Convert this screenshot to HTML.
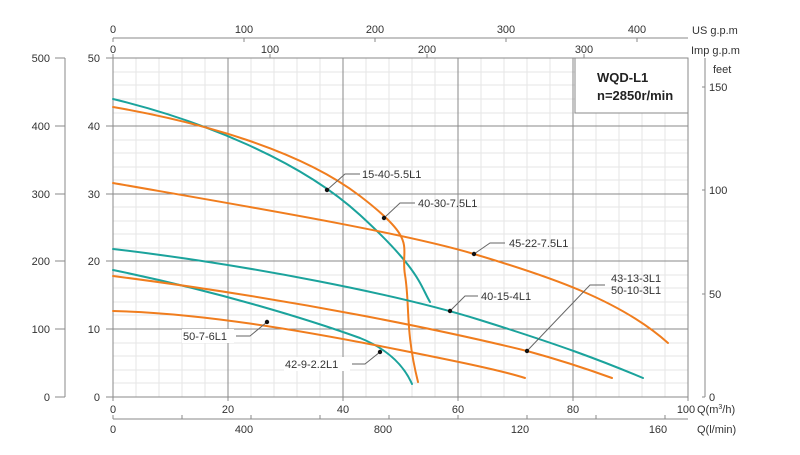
<!DOCTYPE html>
<html><head><meta charset="utf-8"><style>
html,body{margin:0;padding:0;background:#fff}
svg text{font-family:"Liberation Sans",Arial,sans-serif;fill:#333}
</style></head><body>
<svg width="800" height="450" viewBox="0 0 800 450" xmlns="http://www.w3.org/2000/svg">
<g stroke="#e6e6e6" stroke-width="1">
<path d="M136 58V397M159 58V397M182 58V397M205 58V397M251 58V397M274 58V397M297 58V397M320 58V397M366 58V397M389 58V397M412 58V397M435 58V397M481 58V397M504 58V397M527 58V397M550 58V397M596 58V397M619 58V397M642 58V397M665 58V397"/>
<path d="M113 383H688M113 370H688M113 356H688M113 343H688M113 315H688M113 302H688M113 288H688M113 275H688M113 248H688M113 234H688M113 221H688M113 207H688M113 180H688M113 167H688M113 153H688M113 140H688M113 113H688M113 99H688M113 85H688M113 72H688"/>
</g>
<g stroke="#8a8a8a" stroke-width="1" fill="none">
<path d="M228 58V397M343 58V397M458 58V397M573 58V397"/>
<path d="M113 329H688M113 261H688M113 194H688M113 126H688"/>
<rect x="113" y="58" width="575" height="339"/>
<path d="M113 38H688M113 38V42M244 38V42M375 38V42M506 38V42M637 38V42"/>
<path d="M113 58V54M270 58V54M427 58V54M584 58V54"/>
<path d="M65 58V397M55 58H65M55 126H65M55 194H65M55 261H65M55 329H65M55 397H65"/>
<path d="M106 58H113M106 126H113M106 194H113M106 261H113M106 329H113M106 397H113"/>
<path d="M705 58V397M702 87H705M702 190H705M702 294H705M702 397H705"/>
<path d="M113 419H688M113 419V415M182 419V415M251 419V415M320 419V415M389 419V415M458 419V415M527 419V415M596 419V415M665 419V415"/>
<path d="M113 397V401M228 397V401M343 397V401M458 397V401M573 397V401M688 397V401"/>
</g>
<rect x="575" y="58" width="113" height="55" fill="#fff" stroke="#8a8a8a"/>
<text x="597" y="82" font-size="13" font-weight="bold" style="fill:#222">WQD-L1</text>
<text x="597" y="100" font-size="13" font-weight="bold" style="fill:#222">n=2850r/min</text>
<g font-size="11">
<text x="113" y="33" text-anchor="middle">0</text><text x="244" y="33" text-anchor="middle">100</text><text x="375" y="33" text-anchor="middle">200</text><text x="506" y="33" text-anchor="middle">300</text><text x="637" y="33" text-anchor="middle">400</text>
<text x="692" y="34">US g.p.m</text>
<text x="113" y="53" text-anchor="middle">0</text><text x="270" y="53" text-anchor="middle">100</text><text x="427" y="53" text-anchor="middle">200</text><text x="584" y="53" text-anchor="middle">300</text>
<text x="691" y="54">Imp g.p.m</text>
<text x="50" y="62" text-anchor="end">500</text><text x="50" y="130" text-anchor="end">400</text><text x="50" y="198" text-anchor="end">300</text><text x="50" y="265" text-anchor="end">200</text><text x="50" y="333" text-anchor="end">100</text><text x="50" y="401" text-anchor="end">0</text>
<text x="100" y="62" text-anchor="end">50</text><text x="100" y="130" text-anchor="end">40</text><text x="100" y="198" text-anchor="end">30</text><text x="100" y="265" text-anchor="end">20</text><text x="100" y="333" text-anchor="end">10</text><text x="100" y="401" text-anchor="end">0</text>
<text x="713" y="73">feet</text>
<text x="709" y="91">150</text><text x="709" y="194">100</text><text x="709" y="298">50</text><text x="709" y="401">0</text>
<text x="113" y="413" text-anchor="middle">0</text><text x="228" y="413" text-anchor="middle">20</text><text x="343" y="413" text-anchor="middle">40</text><text x="458" y="413" text-anchor="middle">60</text><text x="573" y="413" text-anchor="middle">80</text><text x="686" y="413" text-anchor="middle">100</text>
<text x="697" y="413">Q(m<tspan font-size="7" dy="-4">3</tspan><tspan dy="4">/h)</tspan></text>
<text x="113" y="433" text-anchor="middle">0</text><text x="244" y="433" text-anchor="middle">400</text><text x="383" y="433" text-anchor="middle">800</text><text x="520" y="433" text-anchor="middle">120</text><text x="658" y="433" text-anchor="middle">160</text>
<text x="697" y="433">Q(l/min)</text>
</g>
<g fill="none" stroke-width="2" stroke-linejoin="round" stroke-linecap="round">
<path stroke="#1ba39c" d="M113 99C200 120 300 160 360 215S420 285 430 302"/>
<path stroke="#f07d1e" d="M113 107C200 122 300 150 360 196S400 245 405 275S405 330 418 382"/>
<path stroke="#f07d1e" d="M113 183C250 207 400 232 474 254S620 300 668 343"/>
<path stroke="#1ba39c" d="M113 249C250 265 400 295 480 320S600 360 643 378"/>
<path stroke="#1ba39c" d="M113 270C220 292 310 320 360 338C390 350 405 368 412 384"/>
<path stroke="#f07d1e" d="M113 276C300 300 450 332 527 351C560 360 590 370 612 378"/>
<path stroke="#f07d1e" d="M113 311C200 313 300 330 400 350C450 360 500 370 525 378"/>
</g>
<g stroke="#666" stroke-width="1" fill="none">
<path d="M327 190L345 174H360M384 218L400 203H415M474 254L490 243H505M450 311L465 296H478M527 351L590 285H605M267 322L250 336H236M380 352L365 364H352"/>
</g>
<g fill="#111"><circle cx="327" cy="190" r="2.2"/><circle cx="384" cy="218" r="2.2"/><circle cx="474" cy="254" r="2.2"/><circle cx="450" cy="311" r="2.2"/><circle cx="527" cy="351" r="2.2"/><circle cx="267" cy="322" r="2.2"/><circle cx="380" cy="352" r="2.2"/></g>
<g fill="#fff"><rect x="182" y="329" width="52" height="14"/><rect x="284" y="357" width="66" height="14"/></g>
<g font-size="11">
<text x="362" y="178">15-40-5.5L1</text>
<text x="418" y="207">40-30-7.5L1</text>
<text x="509" y="247">45-22-7.5L1</text>
<text x="481" y="300">40-15-4L1</text>
<text x="611" y="282">43-13-3L1</text>
<text x="611" y="294">50-10-3L1</text>
<text x="183" y="340">50-7-6L1</text>
<text x="285" y="368">42-9-2.2L1</text>
</g>
</svg>
</body></html>
